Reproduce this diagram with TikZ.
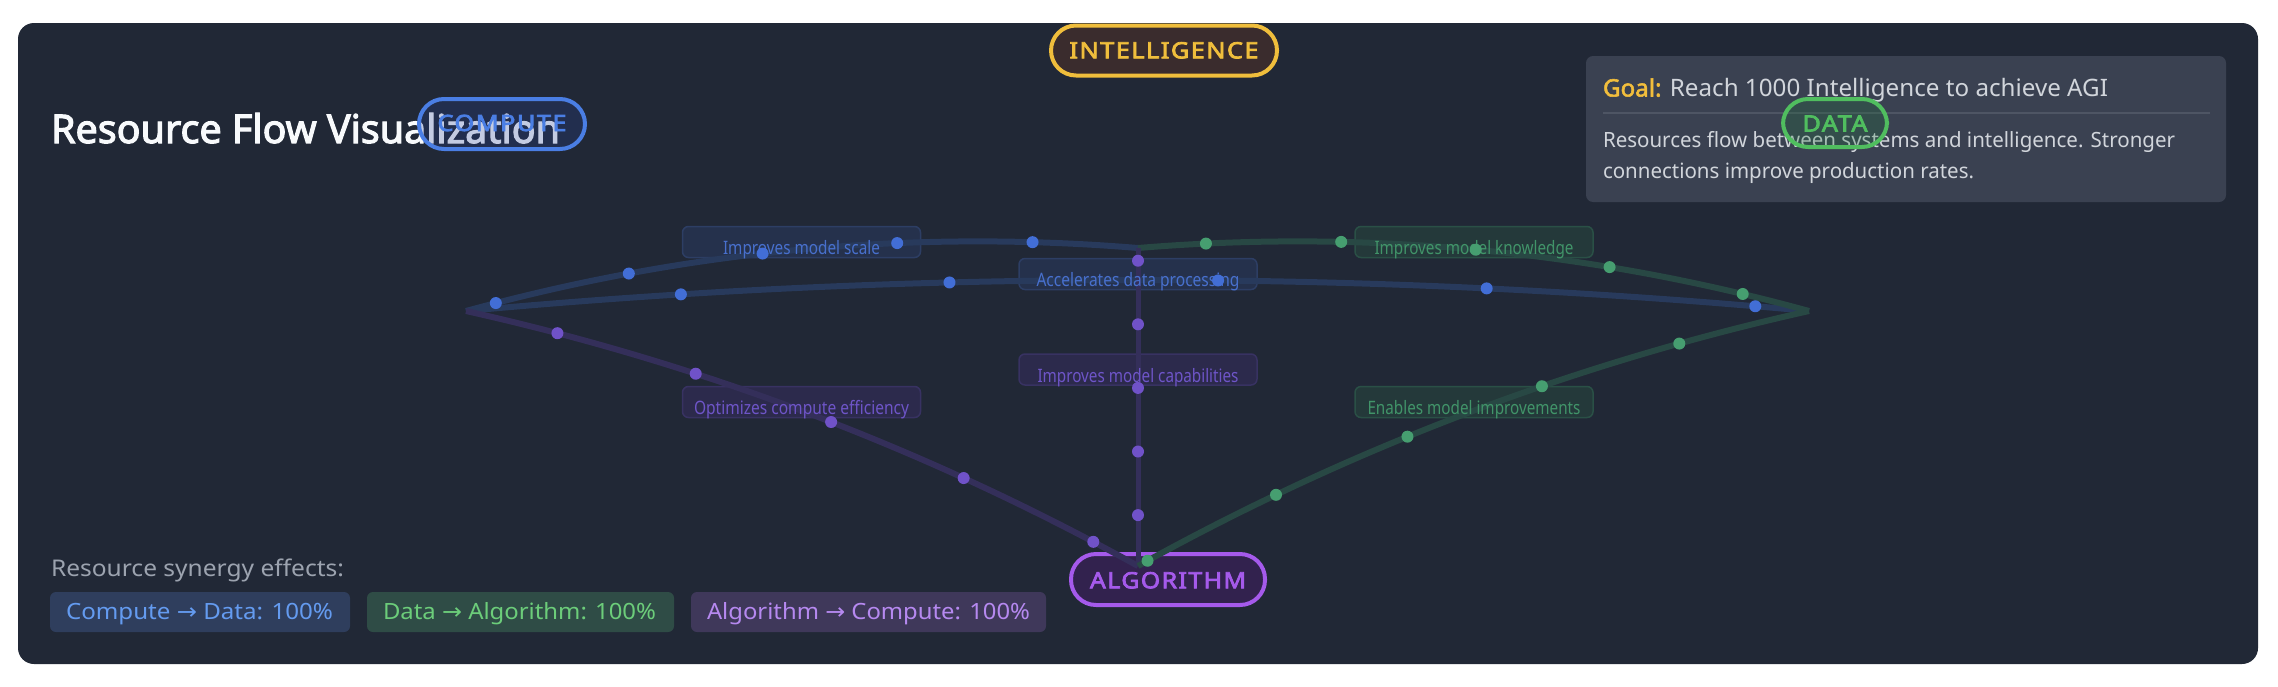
\documentclass[tikz,border=0pt]{standalone}
\usepackage{fontspec}
\usepackage{graphicx}
\setmainfont{Noto Sans}
\newfontfamily\arrowfont{DejaVu Sans}
\newfontfamily\semibfont[FakeBold=2.8]{Noto Sans}
\newfontfamily\goalbfont[FakeBold=2.2]{Noto Sans}
\newfontfamily\pillfont[LetterSpace=6,FakeBold=3.2]{Noto Sans}
\newcommand\fitw[2]{\resizebox{#1}{\height}{#2}}
\newcommand\arr{{\arrowfont →}}

\definecolor{panel}{RGB}{33,40,54}
\definecolor{titlewhite}{RGB}{248,250,252}
\definecolor{goalfill}{RGB}{58,65,81}
\definecolor{goalyellow}{RGB}{242,190,60}
\definecolor{goaltext}{RGB}{209,213,219}
\definecolor{sepcol}{RGB}{78,85,100}
\definecolor{compblue}{RGB}{74,126,228}
\definecolor{compfill}{RGB}{40,64,150}
\definecolor{datagreen}{RGB}{80,190,95}
\definecolor{datafill}{RGB}{34,120,60}
\definecolor{intyellow}{RGB}{240,190,60}
\definecolor{intfill}{RGB}{58,44,45}
\definecolor{algpurple}{RGB}{165,90,235}
\definecolor{algfill}{RGB}{50,34,78}
\definecolor{blueline}{RGB}{40,58,92}
\definecolor{greenline}{RGB}{40,72,68}
\definecolor{purpleline}{RGB}{52,47,90}
\definecolor{bluedot}{RGB}{66,110,214}
\definecolor{greendot}{RGB}{70,158,112}
\definecolor{purpledot}{RGB}{112,82,200}
\definecolor{lbfill}{RGB}{37,49,76}
\definecolor{lbborder}{RGB}{45,62,100}
\definecolor{lbtext}{RGB}{72,112,205}
\definecolor{lgfill}{RGB}{36,57,58}
\definecolor{lgborder}{RGB}{42,80,70}
\definecolor{lgtext}{RGB}{65,148,105}
\definecolor{lpfill}{RGB}{44,42,76}
\definecolor{lpborder}{RGB}{56,50,98}
\definecolor{lptext}{RGB}{110,85,200}
\definecolor{bafill}{RGB}{47,62,93}
\definecolor{batext}{RGB}{100,155,240}
\definecolor{bbfill}{RGB}{47,76,70}
\definecolor{bbtext}{RGB}{108,205,122}
\definecolor{bcfill}{RGB}{63,56,90}
\definecolor{bctext}{RGB}{182,137,240}
\definecolor{syngray}{RGB}{156,163,175}

\begin{document}
\begin{tikzpicture}[x=1pt,y=-1pt,
  txt/.style={anchor=base, inner sep=0pt, outer sep=0pt},
  txtw/.style={anchor=base west, inner sep=0pt, outer sep=0pt},
  pill/.style={rectangle, rounded corners=25pt, line width=4pt, inner sep=0pt},
  pilltext/.style={txt, font=\pillfont\fontsize{22.4}{26}\selectfont},
  lblbox/.style={rectangle, rounded corners=6pt, line width=1.5pt, minimum width=238pt, minimum height=31pt, inner sep=0pt},
  lbltext/.style={txt, font=\fontsize{18.5}{22}\selectfont},
  badge/.style={rectangle, rounded corners=6pt, minimum height=40pt, inner sep=0pt},
  badgetext/.style={txtw, font=\fontsize{22.4}{26}\selectfont},
  flow/.style={line width=6pt},
  dotb/.style={circle, inner sep=0pt, minimum size=12pt, fill=bluedot},
  dotg/.style={circle, inner sep=0pt, minimum size=12pt, fill=greendot},
  dotp/.style={circle, inner sep=0pt, minimum size=12pt, fill=purpledot}]
\useasboundingbox (0,0) rectangle (2278,686);
\fill[white] (0,0) rectangle (2278,686);
\fill[panel, rounded corners=16pt] (18,23) rectangle (2258,664);

% title
\node[txtw, text=titlewhite] (title) at (51,143)
  {\fitw{509pt}{\fontsize{39.5}{44}\selectfont\semibfont Resource Flow Visualization}};

% goal box
\node[rectangle, rounded corners=7pt, fill=goalfill, minimum width=640pt, minimum height=146pt, inner sep=0pt] (goal) at (1906,129) {};
\node[txtw] (goal1) at (1603,96.5)
  {\fitw{505pt}{\fontsize{24}{28}\selectfont{\goalbfont\color{goalyellow}Goal:} \color{goaltext}Reach 1000 Intelligence to achieve AGI}};
\draw[sepcol, line width=1.5pt] (1603,113) -- (2210,113);
\node[txtw, text=goaltext] (goal2) at (1603,147)
  {\fitw{572pt}{\fontsize{21}{25}\selectfont Resources flow between systems and intelligence. Stronger}};
\node[txtw, text=goaltext] (goal3) at (1603,178.3)
  {\fitw{371pt}{\fontsize{21}{25}\selectfont connections improve production rates.}};

% pills
\node[pill, draw=intyellow, fill=intfill, minimum width=226pt, minimum height=50pt] (intel) at (1164,50.5) {};
\node[pilltext, text=intyellow] (intelt) at (1164,58.3) {\fitw{189pt}{INTELLIGENCE}};
\node[pill, draw=compblue, fill=compfill, fill opacity=0.25, minimum width=166pt, minimum height=50pt] (compute) at (502,124) {};
\node[pilltext, text=compblue] (computet) at (502,131) {\fitw{129pt}{COMPUTE}};
\node[pill, draw=datagreen, fill=datafill, fill opacity=0.25, minimum width=104pt, minimum height=48pt] (data) at (1835,123) {};
\node[pilltext, text=datagreen] (datat) at (1835,131.5) {\fitw{65pt}{DATA}};
\node[pill, draw=algpurple, fill=algfill, minimum width=194pt, minimum height=51pt] (algo) at (1168,579.5) {};
\node[pilltext, text=algpurple] (algot) at (1168,588.3) {\fitw{156pt}{ALGORITHM}};

% label boxes
\node[lblbox, fill=lbfill, draw=lbborder] (lscale) at (801.5,242) {};
\node[lblbox, fill=lbfill, draw=lbborder] (laccel) at (1138,274) {};
\node[lblbox, fill=lgfill, draw=lgborder] (lknow) at (1474,242) {};
\node[lblbox, fill=lpfill, draw=lpborder] (lcap) at (1138,369.5) {};
\node[lblbox, fill=lpfill, draw=lpborder] (leff) at (801.5,402) {};
\node[lblbox, fill=lgfill, draw=lgborder] (limpr) at (1474,402) {};

% convergence points
\coordinate (pL) at (466,311);
\coordinate (pR) at (1809,311);
\coordinate (pT) at (1138,248);
\coordinate (pB) at (1138,566);

% flows
\draw[flow, blueline] (pL) .. controls (686.7,250.3) and (910.7,229.3) .. (pT);
\draw[flow, blueline] (pL) .. controls (913.7,269.7) and (1361.3,269.7) .. (pR);
\draw[flow, greenline] (pT) .. controls (1364.7,229.3) and (1588.3,250.3) .. (pR);
\draw[flow, purpleline] (pL) .. controls (702,363.7) and (926,448.7) .. (pB);
\draw[flow, purpleline, line width=5pt] (pB) -- (pT);
\draw[flow, greenline] (pB) .. controls (1349.3,448.7) and (1573,363.7) .. (pR);

% label texts
\node[lbltext, text=lbtext] (lscalet) at (801.5,254.5) {\fitw{157pt}{Improves model scale}};
\node[lbltext, text=lbtext] (laccelt) at (1138,286.5) {\fitw{203pt}{Accelerates data processing}};
\node[lbltext, text=lgtext] (lknowt) at (1474,254.5) {\fitw{199pt}{Improves model knowledge}};
\node[lbltext, text=lptext] (lcapt) at (1138,382.7) {\fitw{201pt}{Improves model capabilities}};
\node[lbltext, text=lptext] (lefft) at (801.5,414.5) {\fitw{215pt}{Optimizes compute efficiency}};
\node[lbltext, text=lgtext] (limprt) at (1474,414.5) {\fitw{213pt}{Enables model improvements}};

% particles
\path (pL) .. controls (686.7,250.3) and (910.7,229.3) .. (pT)
  node[dotb, pos=0.045] (da1) {} node[dotb, pos=0.245] (da2) {} node[dotb, pos=0.445] (da3) {}
  node[dotb, pos=0.645] (da4) {} node[dotb, pos=0.845] (da5) {};
\path (pL) .. controls (913.7,269.7) and (1361.3,269.7) .. (pR)
  node[dotb, pos=0.16] (db1) {} node[dotb, pos=0.36] (db2) {} node[dotb, pos=0.56] (db3) {}
  node[dotb, pos=0.76] (db4) {} node[dotb, pos=0.96] (db5) {};
\path (pT) .. controls (1364.7,229.3) and (1588.3,250.3) .. (pR)
  node[dotg, pos=0.1] (dc1) {} node[dotg, pos=0.3] (dc2) {} node[dotg, pos=0.5] (dc3) {}
  node[dotg, pos=0.7] (dc4) {} node[dotg, pos=0.9] (dc5) {};
\path (pL) .. controls (702,363.7) and (926,448.7) .. (pB)
  node[dotp, pos=0.13] (dd1) {} node[dotp, pos=0.33] (dd2) {} node[dotp, pos=0.53] (dd3) {}
  node[dotp, pos=0.73] (dd4) {} node[dotp, pos=0.93] (dd5) {};
\path (pT) -- (pB)
  node[dotp, pos=0.04] (de1) {} node[dotp, pos=0.24] (de2) {} node[dotp, pos=0.44] (de3) {}
  node[dotp, pos=0.64] (de4) {} node[dotp, pos=0.84] (de5) {};
\path (pB) .. controls (1349.3,448.7) and (1573,363.7) .. (pR)
  node[dotg, pos=0.015] (df1) {} node[dotg, pos=0.215] (df2) {} node[dotg, pos=0.415] (df3) {}
  node[dotg, pos=0.615] (df4) {} node[dotg, pos=0.815] (df5) {};

% synergy
\node[txtw, text=syngray] (syn) at (51,576)
  {\fitw{293pt}{\fontsize{23}{27}\selectfont Resource synergy effects:}};
\node[badge, fill=bafill, minimum width=300pt] (ba) at (200,612) {};
\node[badge, fill=bbfill, minimum width=307pt] (bb) at (520.5,612) {};
\node[badge, fill=bcfill, minimum width=355pt] (bc) at (868.5,612) {};
\node[badgetext, text=batext] (bat) at (66,619.3) {\fitw{267pt}{Compute \arr{} Data: 100\%}};
\node[badgetext, text=bbtext] (bbt) at (383,619.3) {\fitw{273pt}{Data \arr{} Algorithm: 100\%}};
\node[badgetext, text=bctext] (bct) at (707,619.3) {\fitw{323pt}{Algorithm \arr{} Compute: 100\%}};
\end{tikzpicture}
\end{document}
